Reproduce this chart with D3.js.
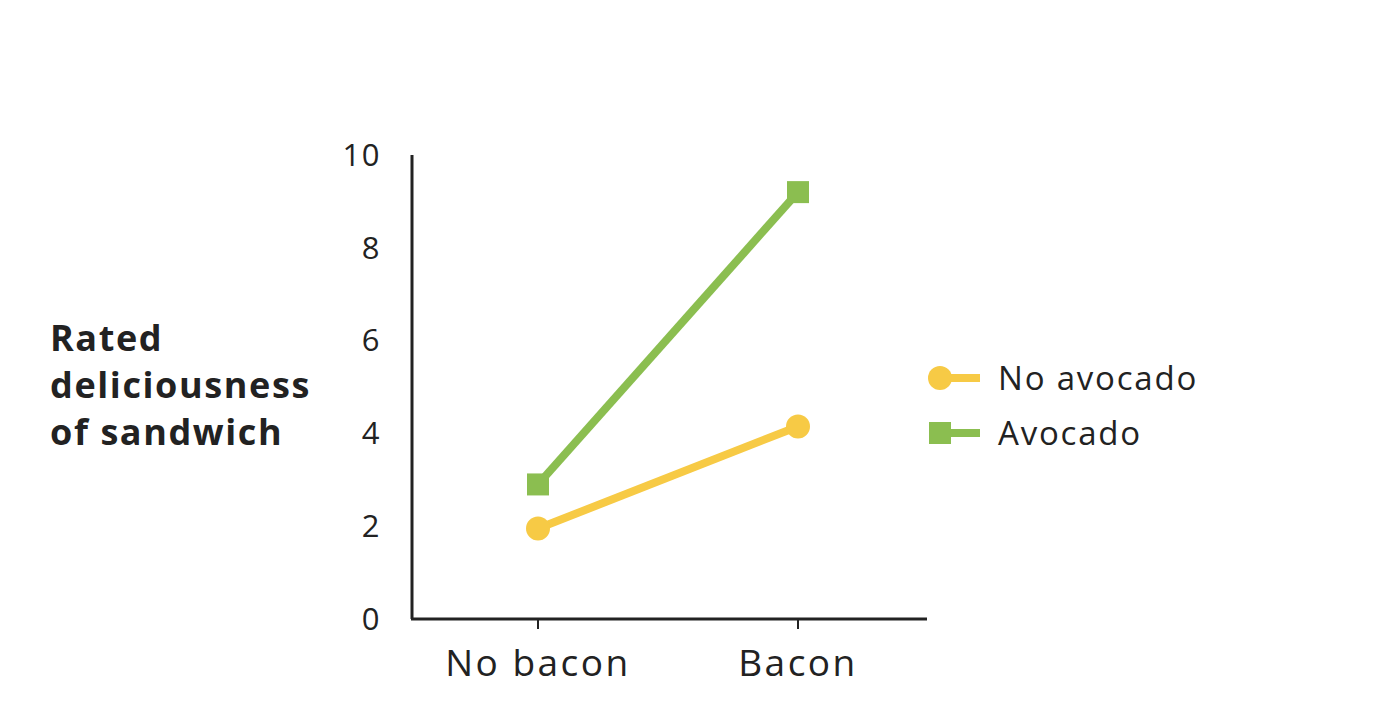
<!DOCTYPE html>
<html><head><meta charset="utf-8">
<script src="https://cdn.jsdelivr.net/npm/d3@7"></script>
<style>body{margin:0;background:#fff}text{font-family:"Open Sans",sans-serif}</style>
</head><body><div id="chart"></div>
<script>
const categories = ["No bacon", "Bacon"];
const noAvocado = [1.95, 4.15];
const avocado = [2.9, 9.2];
const yTicks = [0, 2, 4, 6, 8, 10];
const seriesNames = ["No avocado", "Avocado"];
const colors = ["#F7CA45", "#8BBE50"];

const width = 1380, height = 716;
const svg = d3.select("#chart").append("svg").attr("width", width).attr("height", height);

const x = d3.scalePoint().domain(categories).range([538, 798]);
const y = d3.scaleLinear().domain([0, 10]).range([619, 155]);

// axes
svg.append("line").attr("x1", 412).attr("x2", 412).attr("y1", 155).attr("y2", 619)
  .attr("stroke", "#222").attr("stroke-width", 3);
svg.append("line").attr("x1", 411).attr("x2", 927).attr("y1", 619).attr("y2", 619)
  .attr("stroke", "#222").attr("stroke-width", 3);

svg.selectAll(".yt").data(yTicks).join("text")
  .attr("x", 381).attr("y", d => y(d)).attr("dy", "0.35em").attr("text-anchor", "end")
  .attr("font-size", 31).attr("letter-spacing", 1.5).attr("fill", "#222").text(d => d);

svg.selectAll(".xt").data(categories).join("line")
  .attr("x1", d => x(d)).attr("x2", d => x(d)).attr("y1", 619).attr("y2", 629)
  .attr("stroke", "#222").attr("stroke-width", 2);
svg.selectAll(".xl").data(categories).join("text")
  .attr("x", d => x(d)).attr("y", 676).attr("text-anchor", "middle")
  .attr("font-size", 37).attr("letter-spacing", 2.5).attr("fill", "#222").text(d => d);

// y title
svg.append("text").attr("x", 50).attr("font-size", 36).attr("font-weight", "bold")
  .attr("letter-spacing", 1.6).attr("fill", "#222")
  .selectAll("tspan").data(["Rated", "deliciousness", "of sandwich"]).join("tspan")
  .attr("x", 50).attr("y", (d, i) => 351 + i * 47).text(d => d);

// lines
const line = d3.line().x((d, i) => x(categories[i])).y(d => y(d));
[noAvocado, avocado].forEach((vals, s) => {
  svg.append("path").attr("d", line(vals)).attr("fill", "none")
    .attr("stroke", colors[s]).attr("stroke-width", 8);
});
svg.selectAll(".pt").data(noAvocado).join("circle")
  .attr("cx", (d, i) => x(categories[i])).attr("cy", d => y(d)).attr("r", 12).attr("fill", colors[0]);
svg.selectAll(".sq").data(avocado).join("rect")
  .attr("x", (d, i) => x(categories[i]) - 11).attr("y", d => y(d) - 11)
  .attr("width", 22).attr("height", 22).attr("fill", colors[1]);

// legend
seriesNames.forEach((name, i) => {
  const ly = 378 + i * 55;
  svg.append("line").attr("x1", 940).attr("x2", 980).attr("y1", ly).attr("y2", ly)
    .attr("stroke", colors[i]).attr("stroke-width", 8);
  if (i === 0) svg.append("circle").attr("cx", 940).attr("cy", ly).attr("r", 12).attr("fill", colors[i]);
  else svg.append("rect").attr("x", 929).attr("y", ly - 11).attr("width", 22).attr("height", 22).attr("fill", colors[i]);
  svg.append("text").attr("x", 998).attr("y", ly).attr("dy", "0.35em")
    .attr("font-size", 33).attr("letter-spacing", 1.8).attr("fill", "#222").text(name);
});
</script></body></html>
